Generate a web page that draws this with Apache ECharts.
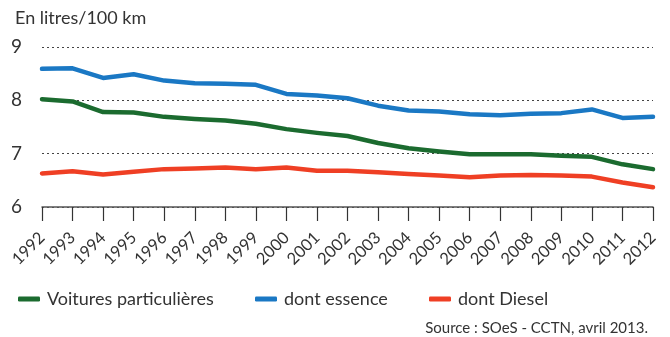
<!DOCTYPE html>
<html>
<head>
<meta charset="utf-8">
<script src="https://cdn.jsdelivr.net/npm/echarts@6/dist/echarts.min.js"></script>
<style>
  html, body { margin: 0; padding: 0; background: #fff; }
  #chart { width: 670px; height: 337px; }
</style>
</head>
<body>
<div id="chart"></div>
<script>
// Consommation moyenne des voitures particulières (litres/100 km)
const years = ['1992','1993','1994','1995','1996','1997','1998','1999','2000','2001','2002',
               '2003','2004','2005','2006','2007','2008','2009','2010','2011','2012'];
const voitures = [8.02, 7.98, 7.78, 7.77, 7.69, 7.65, 7.62, 7.56, 7.46, 7.39, 7.33,
                  7.20, 7.10, 7.04, 6.99, 6.99, 6.99, 6.96, 6.94, 6.80, 6.71];
const essence  = [8.59, 8.60, 8.42, 8.49, 8.37, 8.32, 8.31, 8.29, 8.12, 8.09, 8.04,
                  7.90, 7.81, 7.79, 7.74, 7.72, 7.75, 7.76, 7.83, 7.67, 7.69];
const diesel   = [6.63, 6.67, 6.61, 6.66, 6.71, 6.72, 6.74, 6.71, 6.74, 6.68, 6.68,
                  6.65, 6.62, 6.59, 6.56, 6.59, 6.60, 6.59, 6.57, 6.46, 6.37];
const yTicks = { min: 6, max: 9, step: 1 };

const FONT = 'Lato';
const TXT = '#333333';
const COLORS = { voitures: '#1b6b2f', essence: '#1a78c4', diesel: '#ef3f24' };

function legendFor(name, left) {
  return {
    data: [name], left: left, top: 285,
    icon: 'roundRect', itemWidth: 22, itemHeight: 5, itemGap: 0,
    textStyle: { fontFamily: FONT, fontSize: 18, color: TXT, padding: [0, 0, 0, 2] }
  };
}

const chart = echarts.init(document.getElementById('chart'), null, { renderer: 'canvas' });
chart.setOption({
  animation: false,
  backgroundColor: '#ffffff',
  textStyle: { fontFamily: FONT },
  title: [
    { text: 'En litres/100 km', left: 10, top: 4,
      textStyle: { fontFamily: FONT, fontSize: 18, fontWeight: 'normal', color: TXT } },
    { text: 'Source : SOeS - CCTN, avril 2013.', right: 17, top: 316,
      textStyle: { fontFamily: FONT, fontSize: 15, fontWeight: 'normal', color: TXT } }
  ],
  legend: [
    legendFor('Voitures particulières', 13),
    legendFor('dont essence', 250),
    legendFor('dont Diesel', 424)
  ],
  grid: { left: 42, right: 17, top: 47, bottom: 130 },
  xAxis: {
    type: 'category', data: years, boundaryGap: false,
    axisLine: { lineStyle: { color: '#555', width: 1.5 } },
    axisTick: { alignWithLabel: true, length: 14, lineStyle: { color: '#333', width: 1.2 } },
    axisLabel: { rotate: 45, interval: 0, margin: 28, fontFamily: FONT, fontSize: 16.5, color: TXT },
    splitLine: { show: false }
  },
  yAxis: {
    type: 'value', min: yTicks.min, max: yTicks.max, interval: yTicks.step,
    axisLine: { show: false }, axisTick: { show: false },
    axisLabel: { margin: 20, fontFamily: FONT, fontSize: 19, color: TXT },
    splitLine: { lineStyle: { color: '#444', type: [2, 3], width: 1 } }
  },
  series: [
    { name: 'Voitures particulières', type: 'line', data: voitures, color: COLORS.voitures },
    { name: 'dont essence', type: 'line', data: essence, color: COLORS.essence },
    { name: 'dont Diesel', type: 'line', data: diesel, color: COLORS.diesel }
  ].map(s => Object.assign(s, {
    showSymbol: false, symbol: 'none',
    lineStyle: { width: 4.5, color: s.color, cap: 'round', join: 'round' },
    itemStyle: { color: s.color }
  }))
});
</script>
</body>
</html>
